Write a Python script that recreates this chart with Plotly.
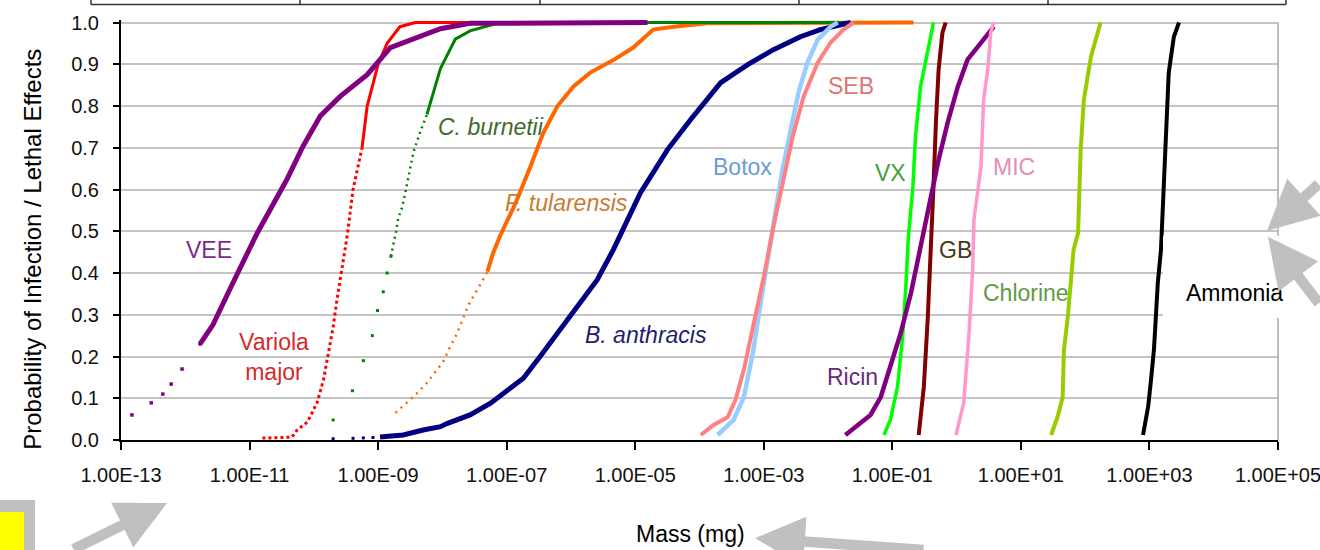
import numpy as np
import plotly.graph_objects as go

# ---------------- data (log10 of mass in mg, probability) ----------------
vee_dot_lm = [-12.83, -12.53, -12.35, -12.22, -12.05, -11.77]
vee_dot_p = [0.06, 0.089, 0.11, 0.134, 0.17, 0.23]
vee_lm = [-11.77, -11.57, -11.26, -11.02, -10.88, -10.42, -10.17, -9.90, -9.59, -9.17, -8.92, -8.81, -8.03, -7.57, -4.81]
vee_p = [0.23, 0.276, 0.376, 0.456, 0.496, 0.624, 0.703, 0.776, 0.823, 0.875, 0.919, 0.94, 0.985, 0.998, 1.0]

var_dot_lm = [-10.80, -10.68, -10.34, -10.26, -10.10, -9.95, -9.85, -9.78, -9.70, -9.64, -9.56, -9.48, -9.39, -9.25]
var_dot_p = [0.005, 0.005, 0.007, 0.024, 0.043, 0.089, 0.144, 0.2, 0.27, 0.336, 0.415, 0.49, 0.6, 0.70]
var_lm = [-9.25, -9.17, -9.00, -8.86, -8.66, -8.42, -7.5]
var_p = [0.70, 0.80, 0.90, 0.95, 0.99, 1.0, 1.0]

cb_pts_lm = [-9.70, -9.40, -9.23, -9.09, -9.01, -8.92, -8.86, -8.80]
cb_pts_p = [0.048, 0.118, 0.19, 0.25, 0.31, 0.355, 0.40, 0.44]
cb_dot_lm = [-8.80, -8.75, -8.72, -8.69, -8.63, -8.58, -8.45, -8.34, -8.24]
cb_dot_p = [0.44, 0.475, 0.50, 0.53, 0.556, 0.59, 0.69, 0.74, 0.78]
cb_lm = [-8.24, -8.14, -8.03, -7.80, -7.57, -7.10, -1.70]
cb_p = [0.78, 0.83, 0.89, 0.96, 0.98, 1.0, 1.0]

ft_dot_lm = [-8.73, -8.42, -8.24, -8.11, -7.99, -7.88, -7.77, -7.67, -7.57, -7.44, -7.30]
ft_dot_p = [0.065, 0.108, 0.137, 0.163, 0.187, 0.223, 0.256, 0.295, 0.331, 0.364, 0.403]
ft_lm = [-7.30, -7.21, -7.10, -6.99, -6.86, -6.63, -6.43, -6.21, -5.96, -5.70, -5.34, -5.03, -4.72, -4.40, -3.88, -0.67]
ft_p = [0.403, 0.448, 0.49, 0.528, 0.568, 0.655, 0.736, 0.80, 0.847, 0.88, 0.91, 0.94, 0.983, 0.99, 0.998, 1.0]

ba_pts_lm = [-9.70, -9.39, -9.23, -9.08]
ba_pts_p = [0.003, 0.004, 0.005, 0.006]
ba_lm = [-8.97, -8.61, -8.30, -8.03, -7.92, -7.57, -7.25, -6.99, -6.74, -6.48, -6.21, -5.90, -5.59,
         -5.34, -4.92, -4.50, -4.14, -3.67, -3.25, -2.85, -2.43, -2.12, -1.80, -1.65]
ba_p = [0.007, 0.012, 0.024, 0.032, 0.04, 0.06, 0.088, 0.12, 0.148, 0.2, 0.256, 0.32, 0.384,
        0.456, 0.592, 0.695, 0.767, 0.856, 0.899, 0.935, 0.966, 0.983, 0.995, 1.0]

botox_lm = [-3.72, -3.47, -3.31, -3.17, -3.05, -2.93, -2.82, -2.71, -2.58, -2.46, -2.32, -2.16, -1.96, -1.85]
botox_p = [0.012, 0.048, 0.103, 0.208, 0.328, 0.448, 0.544, 0.647, 0.743, 0.832, 0.904, 0.959, 0.99, 1.0]

seb_lm = [-3.98, -3.78, -3.56, -3.44, -3.31, -3.16, -3.00, -2.85, -2.69, -2.55, -2.38, -2.16, -1.96, -1.76, -1.60]
seb_p = [0.012, 0.036, 0.055, 0.096, 0.168, 0.271, 0.391, 0.511, 0.624, 0.727, 0.823, 0.904, 0.952, 0.983, 1.0]

ricin_lm = [-1.73, -1.54, -1.34, -1.18, -1.03, -0.87, -0.71, -0.56, -0.40, -0.28, -0.14, 0.02, 0.17, 0.38, 0.58]
ricin_p = [0.012, 0.036, 0.06, 0.103, 0.175, 0.256, 0.352, 0.463, 0.583, 0.671, 0.76, 0.847, 0.911, 0.952, 0.99]

vx_lm = [-1.13, -1.03, -0.92, -0.84, -0.79, -0.75, -0.68, -0.64, -0.56, -0.45, -0.36]
vx_p = [0.012, 0.048, 0.127, 0.247, 0.367, 0.487, 0.607, 0.727, 0.847, 0.928, 1.0]

gb_lm = [-0.59, -0.51, -0.45, -0.40, -0.36, -0.32, -0.28, -0.22, -0.17]
gb_p = [0.012, 0.127, 0.288, 0.448, 0.607, 0.767, 0.887, 0.976, 1.0]

mic_lm = [-0.01, 0.11, 0.19, 0.25, 0.27, 0.38, 0.42, 0.49, 0.53, 0.58]
mic_p = [0.012, 0.088, 0.247, 0.408, 0.528, 0.655, 0.815, 0.895, 0.976, 1.0]

chl_lm = [1.47, 1.57, 1.65, 1.67, 1.73, 1.78, 1.82, 1.89, 1.93, 1.98, 2.09, 2.24]
chl_p = [0.012, 0.055, 0.103, 0.216, 0.295, 0.376, 0.456, 0.496, 0.695, 0.815, 0.918, 1.0]

amm_lm = [2.90, 2.98, 3.02, 3.07, 3.10, 3.13, 3.18, 3.21, 3.26, 3.30, 3.38, 3.46]
amm_p = [0.012, 0.08, 0.137, 0.216, 0.295, 0.376, 0.456, 0.576, 0.736, 0.88, 0.966, 1.0]

x_tick_exp = [-13, -11, -9, -7, -5, -3, -1, 1, 3, 5]
x_tick_text = ["1.00E-13", "1.00E-11", "1.00E-09", "1.00E-07", "1.00E-05",
               "1.00E-03", "1.00E-01", "1.00E+01", "1.00E+03", "1.00E+05"]
y_ticks = [0.0, 0.1, 0.2, 0.3, 0.4, 0.5, 0.6, 0.7, 0.8, 0.9, 1.0]

label_names = ["VEE", "Variola<br>major", "<i>C. burnetii</i>", "<i>F. tularensis</i>", "<i>B. anthracis</i>",
               "Botox", "SEB", "VX", "Ricin", "GB", "MIC", "Chlorine", "Ammonia"]
label_lm = [-11.63, -10.62, -7.24, -6.07, -4.84, -3.33, -1.65, -1.03, -1.62, -0.01, 0.89, 1.08, 4.32]
label_p = [0.456, 0.20, 0.75, 0.568, 0.252, 0.655, 0.847, 0.64, 0.151, 0.456, 0.655, 0.352, 0.352]
label_colors = ["#7B2A8B", "#D42A2A", "#3F6B2A", "#C97A30", "#1E1E70", "#6C9BD0", "#E07575",
                "#3FA03F", "#6A2A7A", "#4A3414", "#E090B5", "#5E9A48", "#000000"]

# ---------------- figure ----------------
FONT = "Liberation Sans, Arial, sans-serif"
W, H = 1320, 550
ML, MR, MB = 121, 42, 110
YMAX = 1.006
PH = 417 * YMAX
MT = H - MB - PH


def px(xp):
    return (xp - ML) / (W - ML - MR)


def py(yp):
    return (H - MB - yp) / PH


def xs(lm):
    return np.power(10.0, np.array(lm, dtype=float))


fig = go.Figure()


def line(lm, p, color, width, dash="solid"):
    fig.add_trace(go.Scatter(x=xs(lm), y=p, mode="lines",
                             line=dict(color=color, width=width, dash=dash),
                             hoverinfo="skip", showlegend=False))


def dots(lm, p, color, size):
    fig.add_trace(go.Scatter(x=xs(lm), y=p, mode="markers",
                             marker=dict(color=color, size=size, symbol="square", line=dict(width=0)),
                             hoverinfo="skip", showlegend=False))


# bottom-most first
line(ft_dot_lm, ft_dot_p, "#FF6600", 2.5, "2px,5px")
line(ft_lm, ft_p, "#FF6600", 4)
dots(cb_pts_lm, cb_pts_p, "#008000", 3)
line(cb_dot_lm, cb_dot_p, "#008000", 2.5, "2px,4px")
line(cb_lm, cb_p, "#008000", 3)
line(var_dot_lm, var_dot_p, "#FF0000", 3, "3px,3px")
line(var_lm, var_p, "#FF0000", 3)
dots(vee_dot_lm, vee_dot_p, "#800080", 3.5)
line(vee_lm, vee_p, "#800080", 5)
dots(ba_pts_lm, ba_pts_p, "#000080", 3)
line(ba_lm, ba_p, "#000080", 5)
line(botox_lm, botox_p, "#99CCFF", 4.5)
line(seb_lm, seb_p, "#FF8080", 4)
line(vx_lm, vx_p, "#00FF00", 3.5)
line(gb_lm, gb_p, "#800000", 4)
line(ricin_lm, ricin_p, "#800080", 4.5)
line(mic_lm, mic_p, "#FF99CC", 3.5)
line(chl_lm, chl_p, "#99CC00", 4)
line(amm_lm, amm_p, "#000000", 4)

annotations = []
for name, lm, p, c in zip(label_names, label_lm, label_p, label_colors):
    annotations.append(dict(x=lm, y=p, xref="x", yref="y", text=name, showarrow=False,
                            font=dict(family=FONT, size=23, color=c), xanchor="center", yanchor="middle"))

# axis titles
annotations.append(dict(x=px(33), y=py(250), xref="paper", yref="paper",
                        text="Probability of Infection / Lethal Effects", textangle=-90, showarrow=False,
                        font=dict(family=FONT, size=24, color="#000000"), xanchor="center", yanchor="middle"))
annotations.append(dict(x=px(690), y=py(534), xref="paper", yref="paper", text="Mass (mg)", showarrow=False,
                        font=dict(family=FONT, size=23, color="#000000"), xanchor="center", yanchor="middle"))

# decorative gray arrows
GRAY = "#C0C0C0"
for hx, hy, ax, ay in [(167, 503, -95, 58), (755, 538, 170, 13), (1267, 231, 65, -48), (1268, 237, 60, 68)]:
    annotations.append(dict(x=px(hx), y=py(hy), xref="paper", yref="paper", text="", showarrow=True,
                            ax=ax, ay=ay, arrowhead=2, arrowsize=0.95, arrowwidth=10.5, arrowcolor=GRAY))

shapes = []
# right border of plot area (gray)
shapes.append(dict(type="line", xref="paper", yref="paper", x0=1, x1=1, y0=0, y1=py(23),
                   line=dict(color="#A8A8A8", width=1.5), layer="above"))
# white box behind "Ammonia"
shapes.append(dict(type="rect", xref="paper", yref="paper", x0=px(1163), x1=px(1296), y0=py(318), y1=py(236),
                   fillcolor="white", line=dict(width=0), layer="above"))
# partial table at the top
shapes.append(dict(type="line", xref="paper", yref="paper", x0=px(91), x1=px(1286), y0=py(5), y1=py(5),
                   line=dict(color="#333333", width=1.5)))
for vx in [91, 300, 540, 799, 1048, 1286]:
    shapes.append(dict(type="line", xref="paper", yref="paper", x0=px(vx), x1=px(vx), y0=py(-2), y1=py(5),
                       line=dict(color="#333333", width=1.5)))
# yellow square with gray frame (bottom-left)
shapes.append(dict(type="rect", xref="paper", yref="paper", x0=px(-2), x1=px(35), y0=py(552), y1=py(500),
                   fillcolor=GRAY, line=dict(width=0)))
shapes.append(dict(type="rect", xref="paper", yref="paper", x0=px(-2), x1=px(24), y0=py(552), y1=py(512),
                   fillcolor="#FFFF00", line=dict(width=0)))

fig.update_layout(
    width=W, height=H,
    margin=dict(l=ML, r=MR, t=MT, b=MB, pad=0, autoexpand=False),
    paper_bgcolor="white", plot_bgcolor="white",
    showlegend=False, hovermode=False,
    annotations=annotations, shapes=shapes,
    xaxis=dict(type="log", range=[-13.0002, 5.0002], tickvals=xs(x_tick_exp), ticktext=x_tick_text,
               automargin=False,
               showgrid=False, zeroline=False, showline=True, linecolor="#000000", linewidth=2,
               ticks="outside", ticklen=8, tickwidth=1.5, tickcolor="#000000", ticklabelstandoff=8,
               ticklabeloverflow="allow",
               tickfont=dict(family=FONT, size=20, color="#111111")),
    yaxis=dict(range=[0, YMAX], tickvals=y_ticks, ticktext=[f"{v:.1f}" for v in y_ticks],
               automargin=False,
               showgrid=True, gridcolor="#C4C4C4", gridwidth=1.5, zeroline=False,
               showline=True, linecolor="#000000", linewidth=2,
               ticks="outside", ticklen=6, tickwidth=1.5, tickcolor="#000000", ticklabelstandoff=10,
               tickfont=dict(family=FONT, size=20, color="#111111")),
)

fig.write_html("out.html")
